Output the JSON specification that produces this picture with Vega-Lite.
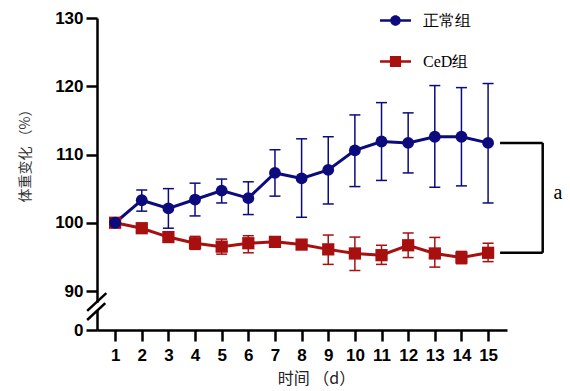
{
  "$schema": "https://vega.github.io/schema/vega-lite/v6.json",
  "width": 410,
  "height": 312,
  "autosize": {"type": "none"},
  "padding": {"left": 97, "top": 18, "right": 63, "bottom": 61},
  "background": "white",
  "config": {"view": {"stroke": null}},
  "datasets": {
    "main": [
      {"day": 1, "group": "正常组", "mean": 100, "lo": 100, "hi": 100},
      {"day": 2, "group": "正常组", "mean": 103.3, "lo": 101.7, "hi": 104.8},
      {"day": 3, "group": "正常组", "mean": 102.1, "lo": 99.2, "hi": 105.0},
      {"day": 4, "group": "正常组", "mean": 103.4, "lo": 101.0, "hi": 105.8},
      {"day": 5, "group": "正常组", "mean": 104.7, "lo": 102.9, "hi": 106.4},
      {"day": 6, "group": "正常组", "mean": 103.6, "lo": 101.2, "hi": 106.0},
      {"day": 7, "group": "正常组", "mean": 107.3, "lo": 103.9, "hi": 110.7},
      {"day": 8, "group": "正常组", "mean": 106.5, "lo": 100.8, "hi": 112.3},
      {"day": 9, "group": "正常组", "mean": 107.75, "lo": 102.75, "hi": 112.6},
      {"day": 10, "group": "正常组", "mean": 110.6, "lo": 105.3, "hi": 115.8},
      {"day": 11, "group": "正常组", "mean": 111.9, "lo": 106.2, "hi": 117.6},
      {"day": 12, "group": "正常组", "mean": 111.7, "lo": 107.3, "hi": 116.1},
      {"day": 13, "group": "正常组", "mean": 112.6, "lo": 105.2, "hi": 120.1},
      {"day": 14, "group": "正常组", "mean": 112.6, "lo": 105.4, "hi": 119.8},
      {"day": 15, "group": "正常组", "mean": 111.7, "lo": 102.9, "hi": 120.4},
      {"day": 1, "group": "CeD组", "mean": 100, "lo": 100, "hi": 100},
      {"day": 2, "group": "CeD组", "mean": 99.2, "lo": 98.7, "hi": 99.7},
      {"day": 3, "group": "CeD组", "mean": 97.9, "lo": 97.4, "hi": 98.4},
      {"day": 4, "group": "CeD组", "mean": 97.0, "lo": 96.1, "hi": 98.0},
      {"day": 5, "group": "CeD组", "mean": 96.5, "lo": 95.4, "hi": 97.6},
      {"day": 6, "group": "CeD组", "mean": 97.0, "lo": 95.6, "hi": 98.1},
      {"day": 7, "group": "CeD组", "mean": 97.2, "lo": 96.7, "hi": 97.7},
      {"day": 8, "group": "CeD组", "mean": 96.8, "lo": 96.2, "hi": 97.4},
      {"day": 9, "group": "CeD组", "mean": 96.1, "lo": 93.9, "hi": 98.2},
      {"day": 10, "group": "CeD组", "mean": 95.5, "lo": 93.0, "hi": 97.9},
      {"day": 11, "group": "CeD组", "mean": 95.25, "lo": 93.9, "hi": 96.7},
      {"day": 12, "group": "CeD组", "mean": 96.7, "lo": 94.9, "hi": 98.5},
      {"day": 13, "group": "CeD组", "mean": 95.5, "lo": 93.5, "hi": 97.85},
      {"day": 14, "group": "CeD组", "mean": 94.9, "lo": 94.0, "hi": 95.8},
      {"day": 15, "group": "CeD组", "mean": 95.6, "lo": 94.3, "hi": 97.0}
    ],
    "bracket": [
      {"x": 15.45, "x2": 17.05, "top": 111.7, "bottom": 95.6, "label": "a", "lx": 17.62, "ly": 104.4}
    ],
    "breaks": [
      {"x": -0.05, "x2": 0.67, "y": 44, "y2": 85},
      {"x": -0.05, "x2": 0.63, "y": 23, "y2": 62}
    ],
    "gap": [
      {"x": 0.32, "y": 46, "y2": 63}
    ]
  },
  "layer": [
    {
      "data": {"name": "gap"},
      "mark": {"type": "rule", "color": "white", "strokeWidth": 4},
      "encoding": {
        "x": {"field": "x", "type": "quantitative"},
        "y": {"field": "y", "type": "quantitative"},
        "y2": {"field": "y2"}
      }
    },
    {
      "data": {"name": "breaks"},
      "mark": {"type": "rule", "color": "black", "strokeWidth": 2.5},
      "encoding": {
        "x": {"field": "x", "type": "quantitative"},
        "x2": {"field": "x2"},
        "y": {"field": "y", "type": "quantitative"},
        "y2": {"field": "y2"}
      }
    },
    {
      "data": {"name": "bracket"},
      "mark": {"type": "rule", "color": "black", "strokeWidth": 2.5},
      "encoding": {
        "x": {"field": "x", "type": "quantitative"},
        "x2": {"field": "x2"},
        "y": {"field": "top", "type": "quantitative"}
      }
    },
    {
      "data": {"name": "bracket"},
      "mark": {"type": "rule", "color": "black", "strokeWidth": 2.5},
      "encoding": {
        "x": {"field": "x", "type": "quantitative"},
        "x2": {"field": "x2"},
        "y": {"field": "bottom", "type": "quantitative"}
      }
    },
    {
      "data": {"name": "bracket"},
      "mark": {"type": "rule", "color": "black", "strokeWidth": 2.5},
      "encoding": {
        "x": {"field": "x2", "type": "quantitative"},
        "y": {"field": "top", "type": "quantitative"},
        "y2": {"field": "bottom"}
      }
    },
    {
      "data": {"name": "bracket"},
      "mark": {"type": "text", "font": "Liberation Serif", "fontSize": 20, "color": "black", "align": "center", "baseline": "middle"},
      "encoding": {
        "x": {"field": "lx", "type": "quantitative"},
        "y": {"field": "ly", "type": "quantitative"},
        "text": {"field": "label"}
      }
    },
    {
      "data": {"name": "main"},
      "mark": {"type": "rule", "strokeWidth": 1.5},
      "encoding": {
        "x": {"field": "day", "type": "quantitative"},
        "y": {"field": "lo", "type": "quantitative"},
        "y2": {"field": "hi"},
        "color": {"field": "group", "type": "nominal"}
      }
    },
    {
      "data": {"name": "main"},
      "mark": {"type": "tick", "orient": "horizontal", "size": 11, "thickness": 1.5, "opacity": 1},
      "encoding": {
        "x": {"field": "day", "type": "quantitative"},
        "y": {"field": "lo", "type": "quantitative"},
        "color": {"field": "group", "type": "nominal"}
      }
    },
    {
      "data": {"name": "main"},
      "mark": {"type": "tick", "orient": "horizontal", "size": 11, "thickness": 1.5, "opacity": 1},
      "encoding": {
        "x": {"field": "day", "type": "quantitative"},
        "y": {"field": "hi", "type": "quantitative"},
        "color": {"field": "group", "type": "nominal"}
      }
    },
    {
      "data": {"name": "main"},
      "mark": {"type": "line", "strokeWidth": 3},
      "encoding": {
        "x": {"field": "day", "type": "quantitative"},
        "y": {"field": "mean", "type": "quantitative"},
        "color": {"field": "group", "type": "nominal"},
        "order": {"field": "day"}
      }
    },
    {
      "data": {"name": "main"},
      "transform": [{"filter": "datum.group === 'CeD组'"}],
      "mark": {"type": "point", "shape": "square", "filled": true, "size": 150, "opacity": 1},
      "encoding": {
        "x": {"field": "day", "type": "quantitative"},
        "y": {"field": "mean", "type": "quantitative"},
        "color": {"field": "group", "type": "nominal"}
      }
    },
    {
      "data": {"name": "main"},
      "transform": [{"filter": "datum.group === '正常组'"}],
      "mark": {"type": "point", "shape": "circle", "filled": true, "size": 140, "opacity": 1},
      "encoding": {
        "x": {
          "field": "day", "type": "quantitative",
          "scale": {"domain": [0.32, 15.71], "nice": false, "zero": false},
          "axis": {
            "title": "时间 （d）",
            "values": [1, 2, 3, 4, 5, 6, 7, 8, 9, 10, 11, 12, 13, 14, 15],
            "tickCount": 20,
            "format": "d",
            "labelOverlap": false,
            "labelFont": "Liberation Sans", "labelFontWeight": "bold", "labelFontSize": 17, "labelColor": "black",
            "labelPadding": 6,
            "tickSize": 11, "tickWidth": 2.5, "tickColor": "black",
            "domainWidth": 2.5, "domainColor": "black",
            "grid": false,
            "titleFont": "Noto Sans CJK SC", "titleFontWeight": "normal", "titleFontSize": 16, "titleColor": "#222",
            "titleX": 219, "titleY": 48, "titleBaseline": "middle", "titleAlign": "center"
          }
        },
        "y": {
          "field": "mean", "type": "quantitative",
          "scale": {"domain": [0, 90, 130], "range": [312, 273, 0], "nice": false, "zero": false},
          "axis": {
            "title": "体重变化 （%）",
            "values": [0, 90, 100, 110, 120, 130],
            "tickCount": 20,
            "labelOverlap": false,
            "labelFont": "Liberation Sans", "labelFontWeight": "bold", "labelFontSize": 17, "labelColor": "black",
            "labelPadding": 3,
            "tickSize": 11, "tickWidth": 2.5, "tickColor": "black",
            "domainWidth": 2.5, "domainColor": "black",
            "grid": false,
            "titleFont": "Noto Sans CJK SC", "titleFontWeight": "normal", "titleFontSize": 14, "titleColor": "#333",
            "titleAngle": 270, "titleX": -72, "titleY": 134, "titleBaseline": "middle", "titleAlign": "center"
          }
        },
        "color": {
          "field": "group", "type": "nominal",
          "scale": {"domain": ["正常组", "CeD组"], "range": ["#0b0b7e", "#a80f0f"]}
        }
      }
    },
    {
      "data": {"name": "main"},
      "mark": {"type": "point", "filled": true, "size": 10, "opacity": 0},
      "encoding": {
        "x": {"field": "day", "type": "quantitative"},
        "y": {"field": "mean", "type": "quantitative"},
        "color": {
          "field": "group", "type": "nominal",
          "legend": {
            "title": null,
            "orient": "none",
            "legendX": 283,
            "legendY": -13,
            "padding": 0,
            "symbolSize": 961,
            "symbolStrokeWidth": 0,
            "symbolOpacity": 1,
            "labelFont": "Liberation Serif",
            "labelFontSize": 16,
            "labelColor": "black",
            "labelOffset": 12,
            "rowPadding": 17
          }
        },
        "shape": {
          "field": "group", "type": "nominal",
          "scale": {
            "domain": ["正常组", "CeD组"],
            "range": [
              "M-1,-0.08H-0.3V0.08H-1Z M0.3,-0.08H1V0.08H0.3Z M0.34,0A0.34,0.34,0,1,1,-0.34,0A0.34,0.34,0,1,1,0.34,0Z",
              "M-1,-0.08H-0.3V0.08H-1Z M0.3,-0.08H1V0.08H0.3Z M-0.36,-0.36H0.36V0.36H-0.36Z"
            ]
          },
          "legend": {
            "title": null,
            "orient": "none",
            "legendX": 283,
            "legendY": -13,
            "padding": 0,
            "symbolSize": 961,
            "symbolStrokeWidth": 0,
            "symbolOpacity": 1,
            "labelFont": "Liberation Serif",
            "labelFontSize": 16,
            "labelColor": "black",
            "labelOffset": 12,
            "rowPadding": 17
          }
        }
      }
    }
  ]
}
